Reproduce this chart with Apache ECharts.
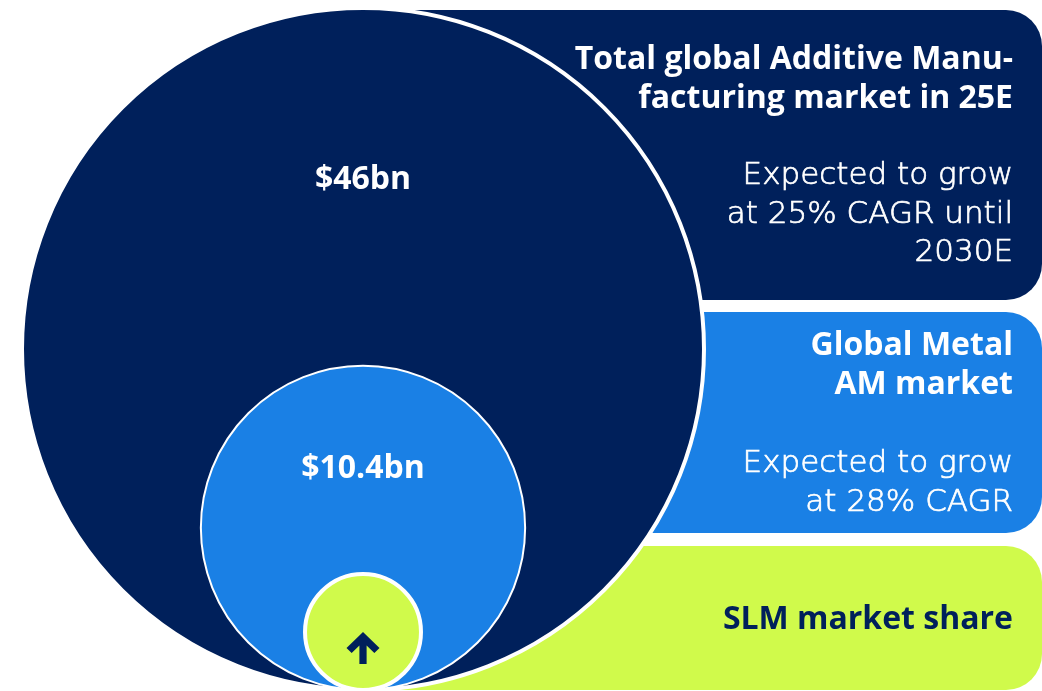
<!DOCTYPE html>
<html>
<head>
<meta charset="utf-8">
<script src="https://cdn.jsdelivr.net/npm/echarts@6/dist/echarts.min.js"></script>
<style>
    html, body { margin: 0; padding: 0; background: #fff; }
    #chart { width: 1042px; height: 691px; }
</style>
</head>
<body>
<div id="chart"></div>
<script>
// market sizes, nested circles (area ~ value)
const segments = ['Total global AM market', 'Global Metal AM market', 'SLM market share'];
const marketSizeBn = [46, 10.4, 1.33];
const valueLabels = ['$46bn', '$10.4bn', ''];

// text for the side panels
const panelTitles = [
    ['Total global Additive Manu-', 'facturing market in 25E'],
    ['Global Metal', 'AM market'],
    ['SLM market share']
];
const panelNotes = [
    ['Expected to grow', 'at 25% CAGR until', '2030E'],
    ['Expected to grow', 'at 28% CAGR'],
    []
];

const NAVY = '#00205b';
const BLUE = '#1a80e5';
const LIME = '#d0fa4b';
const colors = [NAVY, BLUE, LIME];

const W = 1042, H = 691;
const maxR = 341;      // radius of the biggest circle in px
const baseY = 690;     // circles all sit on this line
const centerX = 363;

let chart = echarts.init(document.getElementById('chart'));

let radius = marketSizeBn.map(v => maxR * Math.sqrt(v / marketSizeBn[0]));
let labelOffset = [[0, -169], [0, -59], [0, 0]];
let borderW = [4, 2, 4];

let circleData = marketSizeBn.map(function(v, i){
    return {
        name: segments[i],
        value: [centerX, baseY - radius[i], v],
        symbolSize: radius[i] * 2,
        itemStyle: { color: colors[i], borderColor: '#fff', borderWidth: borderW[i], opacity: 1 },
        label: { offset: labelOffset[i] }
    }
})

// side panels (rounded on the right), drawn under the circles
let panelBands = [[10, 300], [312, 533], [546, 690]];
let graphics = [];
panelBands.forEach(function(b, i){
    graphics.push({
        type: 'rect',
        z: -10,
        shape: { x: 380, y: b[0], width: W - 380, height: b[1] - b[0], r: [0, 36, 36, 0] },
        style: { fill: colors[i] }
    });
});

const textX = 1013;
const lineH = 38.5;
let titleTop = [60, 346, 620];
let noteTop = [176, 464, 0];
panelTitles.forEach(function(lines, i){
    lines.forEach(function(t, j){
        graphics.push({
            type: 'text', z: 10,
            style: {
                x: textX, y: titleTop[i] + j * lineH, text: t,
                align: 'right', verticalAlign: 'middle',
                font: 'bold 32px "Open Sans"', fill: i == 2 ? NAVY : '#fff'
            }
        });
    });
    panelNotes[i].forEach(function(t, j){
        graphics.push({
            type: 'text', z: 10,
            style: {
                x: textX, y: noteTop[i] + j * lineH, text: t,
                align: 'right', verticalAlign: 'middle',
                font: '200 31px "DejaVu Sans"', fill: '#fff',
                stroke: '#fff', lineWidth: 0.7
            }
        });
    });
});

let option = {
    animation: false,
    backgroundColor: '#fff',
    grid: { left: 0, right: 0, top: 0, bottom: 0 },
    xAxis: { type: 'value', min: 0, max: W, show: false },
    yAxis: { type: 'value', min: 0, max: H, inverse: true, show: false },
    graphic: graphics,
    series: [
        {
            name: 'market',
            type: 'scatter',
            symbol: 'circle',
            z: 2,
            label: {
                show: true,
                position: 'inside',
                color: '#fff',
                fontFamily: 'Open Sans',
                fontWeight: 'bold',
                fontSize: 32,
                formatter: p => valueLabels[p.dataIndex]
            },
            emphasis: { disabled: true },
            data: circleData
        },
        {
            // growth arrow in the SLM circle
            name: 'growth',
            type: 'scatter',
            z: 3,
            symbol: 'path://M16,0 L32,16 L27,21 L19.5,13.5 L19.5,32 L12.5,32 L12.5,13.5 L5,21 L0,16 Z',
            symbolSize: [33, 32],
            itemStyle: { color: NAVY, opacity: 1 },
            emphasis: { disabled: true },
            data: [[centerX, baseY - radius[2] + 16]]
        }
    ]
};

chart.setOption(option);
</script>
</body>
</html>
